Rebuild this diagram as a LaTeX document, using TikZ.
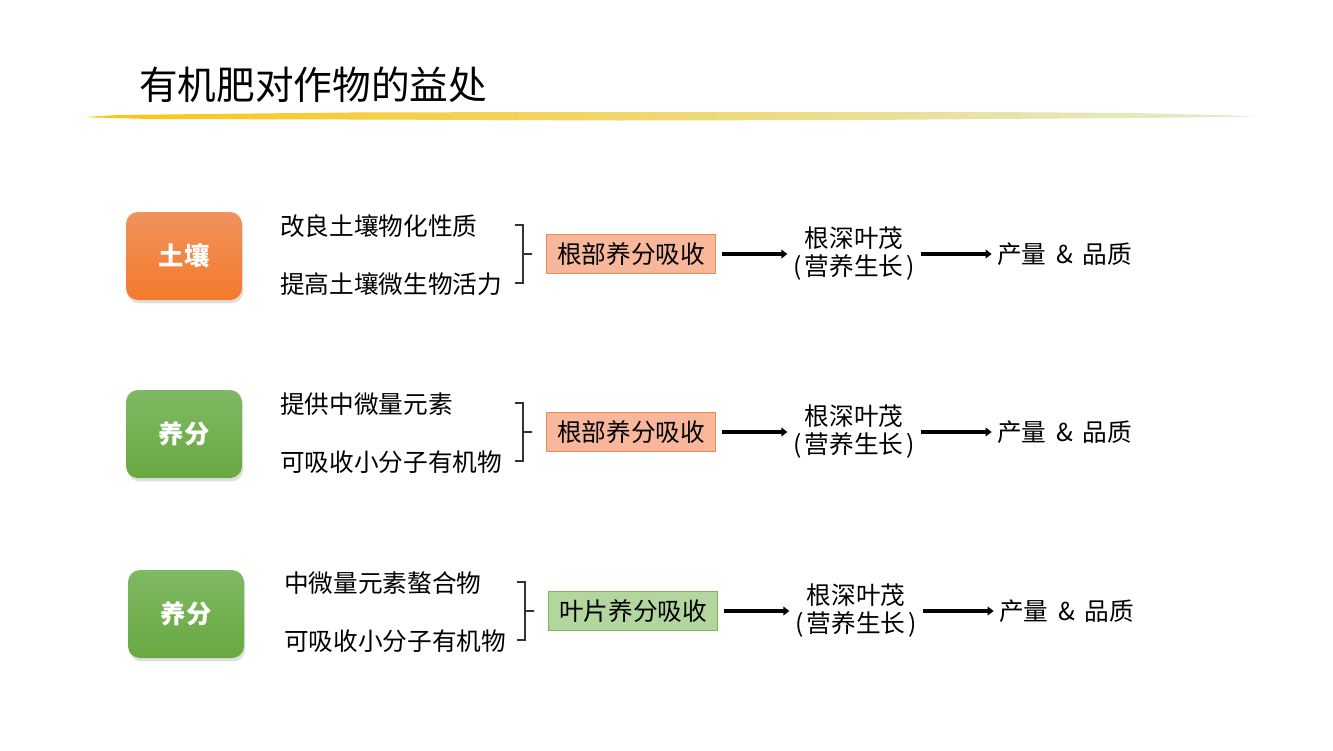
\documentclass[tikz,border=0pt]{standalone}
\usepackage{fontspec}
\setmainfont{Noto Sans CJK SC}
\usetikzlibrary{arrows.meta}
\usetikzlibrary{positioning}
\usetikzlibrary{shadows}
\definecolor{soiltop}{HTML}{F0925C}
\definecolor{soilbot}{HTML}{F47A2B}
\definecolor{nuttop}{HTML}{7FB964}
\definecolor{nutbot}{HTML}{68A940}
\definecolor{rootfill}{HTML}{F8B79B}
\definecolor{rootline}{HTML}{EE8A55}
\definecolor{leaffill}{HTML}{B3D69E}
\definecolor{leafline}{HTML}{7DB35A}
\definecolor{linegold}{HTML}{FCC414}
\definecolor{linemid}{HTML}{EFDB84}
\definecolor{linepale}{HTML}{E2ECD2}
\tikzset{
% Define standard arrow tip
>={Triangle[length=4.5pt, width=6.5pt]},
topic/.style={rounded corners=9pt, minimum width=87pt, minimum height=66pt,
  text=white, font=\bfseries\fontsize{19}{22}\selectfont,
  drop shadow={opacity=0.25, shadow xshift=1pt, shadow yshift=-2.5pt}},
soil/.style={topic, top color=soiltop, bottom color=soilbot},
nutrient/.style={topic, top color=nuttop, bottom color=nutbot},
point/.style={anchor=west, inner sep=0, font=\fontsize{18.5}{22}\selectfont},
uptake/.style={minimum width=127pt, minimum height=29pt, inner xsep=6pt,
  line width=0.8pt, font=\fontsize{18.5}{22}\selectfont},
root/.style={uptake, fill=rootfill, draw=rootline},
leaf/.style={uptake, fill=leaffill, draw=leafline},
growth/.style={align=center, inner sep=0, font=\fontsize{18.5}{21}\selectfont},
yield/.style={anchor=west, inner sep=0, font=\fontsize{18.5}{22}\selectfont},
flow/.style={->, line width=2.6pt, shorten <=4pt, shorten >=4pt},
bracket/.style={line width=0.8pt, draw=black!80}
}
\newcommand{\growtext}{根深叶茂\\(\hspace{2.5pt}营养生长\hspace{2.5pt})}
\newcommand{\yieldtext}{产量\hspace{3pt} \& \hspace{3pt}品质}
\begin{document}
\begin{tikzpicture}[x=0.75pt, y=-0.75pt]
  \useasboundingbox (0,0) rectangle (1333,750);

  % title
  \node[anchor=west, inner sep=0, font=\fontsize{29}{34}\selectfont] (title) at (139,85) {有机肥对作物的益处};
  \shade[left color=linegold, middle color=linemid, right color=linepale]
    (84,117) -- (118,115) -- (205,114) -- (350,112.5) -- (550,112) -- (985,112) -- (1133,113) -- (1220,115) -- (1256,116.5)
    -- (1190,117.5) -- (1063,118.5) -- (860,120) -- (620,120.5) -- (350,119.5) -- (150,119) -- (95,117.5) -- cycle;

  % row 1
  \node[soil] (topic1) at (184,256) {土壤};
  \node[point] (pa1) at (280,226) {改良土壤物化性质};
  \node[point] (pb1) at (280,284) {提高土壤微生物活力};
  \coordinate (bt1) at (515,225);
  \draw[bracket] (bt1) -- ++(8,0) -- ++(0,29) -- ++(9,0) -- ++(-9,0) -- ++(0,29) -- ++(-8,0);
  \node[root] (up1) at (631,254) {根部养分吸收};
  \node[growth] (grow1) at (854,254) {\growtext};
  \node[yield] (yield1) at (997,254) {\yieldtext};
  \draw[flow] (up1) -- (grow1);
  \draw[flow] (grow1) -- (yield1);

  % row 2
  \node[nutrient] (topic2) at (184,434) {养分};
  \node[point] (pa2) at (280,404) {提供中微量元素};
  \node[point] (pb2) at (280,462) {可吸收小分子有机物};
  \coordinate (bt2) at (515,403);
  \draw[bracket] (bt2) -- ++(8,0) -- ++(0,29) -- ++(9,0) -- ++(-9,0) -- ++(0,29) -- ++(-8,0);
  \node[root] (up2) at (631,432) {根部养分吸收};
  \node[growth] (grow2) at (854,432) {\growtext};
  \node[yield] (yield2) at (997,432) {\yieldtext};
  \draw[flow] (up2) -- (grow2);
  \draw[flow] (grow2) -- (yield2);

  % row 3
  \node[nutrient] (topic3) at (186,614) {养分};
  \node[point] (pa3) at (284,583) {中微量元素螯合物};
  \node[point] (pb3) at (284,641) {可吸收小分子有机物};
  \coordinate (bt3) at (517,582);
  \draw[bracket] (bt3) -- ++(8,0) -- ++(0,29) -- ++(9,0) -- ++(-9,0) -- ++(0,29) -- ++(-8,0);
  \node[leaf] (up3) at (633,611) {叶片养分吸收};
  \node[growth] (grow3) at (856,611) {\growtext};
  \node[yield] (yield3) at (999,611) {\yieldtext};
  \draw[flow] (up3) -- (grow3);
  \draw[flow] (grow3) -- (yield3);
\end{tikzpicture}
\end{document}
